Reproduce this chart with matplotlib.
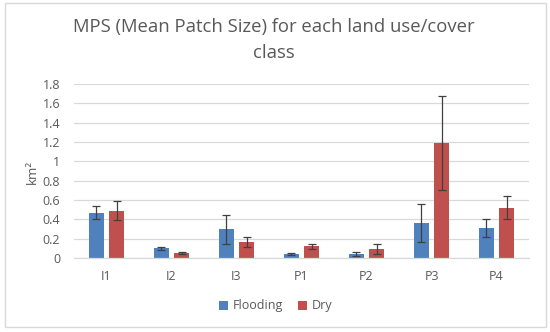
import numpy as np
import matplotlib
matplotlib.use("Agg")
import matplotlib.pyplot as plt
from matplotlib.patches import Rectangle

# ------------------------------------------------------------------ #
# Data
# ------------------------------------------------------------------ #
classes = ["I1", "I2", "I3", "P1", "P2", "P3", "P4"]
flooding = [0.47, 0.10, 0.30, 0.04, 0.04, 0.365, 0.31]
flooding_err = [0.07, 0.015, 0.15, 0.01, 0.02, 0.195, 0.095]
dry = [0.49, 0.05, 0.165, 0.12, 0.095, 1.19, 0.52]
dry_err = [0.10, 0.01, 0.05, 0.025, 0.05, 0.49, 0.12]
yticks = [0, 0.2, 0.4, 0.6, 0.8, 1, 1.2, 1.4, 1.6, 1.8]
ytick_labels = ["0", "0.2", "0.4", "0.6", "0.8", "1", "1.2", "1.4", "1.6", "1.8"]

BLUE = "#4F81BD"
RED = "#C0504D"
TEXT = "#595959"
GRID = "#D9D9D9"

plt.rcParams["font.family"] = ["Open Sans", "DejaVu Sans"]

fig = plt.figure(figsize=(5.5, 3.32), dpi=100)
ax = fig.add_axes([74 / 550, (332 - 258) / 332, 455 / 550, 174 / 332])

x = np.arange(len(classes))
w = 0.23
off = 0.155
err_kw = dict(ecolor="#404040", elinewidth=0.9, capsize=3, capthick=0.9)
ax.bar(x - off, flooding, w, yerr=flooding_err, color=BLUE, label="Flooding",
       error_kw=err_kw, zorder=2)
ax.bar(x + off, dry, w, yerr=dry_err, color=RED, label="Dry",
       error_kw=err_kw, zorder=2)

ax.set_xlim(-0.5, len(classes) - 0.5)
ax.set_ylim(0, 1.8)
ax.set_yticks(yticks)
ax.set_yticklabels(ytick_labels)
ax.set_xticks(x)
ax.set_xticklabels(classes)
ax.tick_params(axis="both", length=0, labelsize=9, colors=TEXT)
ax.tick_params(axis="y", pad=10)
ax.tick_params(axis="x", pad=9)
ax.grid(axis="y", color=GRID, linewidth=0.9, zorder=0)
for s in ["top", "right", "left"]:
    ax.spines[s].set_visible(False)
ax.spines["bottom"].set_color(GRID)
ax.spines["bottom"].set_linewidth(0.9)

fig.text(32 / 550, 1 - 172 / 332, "km²", rotation=90, ha="center", va="center",
         fontsize=9.5, color=TEXT)

fig.text(274 / 550, 1 - 27 / 332, "MPS (Mean Patch Size) for each land use/cover",
         ha="center", va="center", fontsize=13.3, color=TEXT)
fig.text(274 / 550, 1 - 53 / 332, "class",
         ha="center", va="center", fontsize=13.3, color=TEXT)

ax.legend(loc="center", bbox_to_anchor=(276 / 550, 1 - 306 / 332),
          bbox_transform=fig.transFigure, ncol=2, frameon=False,
          fontsize=9, labelcolor=TEXT, handlelength=0.7, handleheight=0.7,
          handletextpad=0.4, columnspacing=1.2)

fig.patches.append(Rectangle((5 / 550, 1 - 327 / 332), 541 / 550, 324 / 332,
                             transform=fig.transFigure, fill=False,
                             edgecolor="#D9D9D9", linewidth=1))

fig.savefig("out.png", dpi=100)
